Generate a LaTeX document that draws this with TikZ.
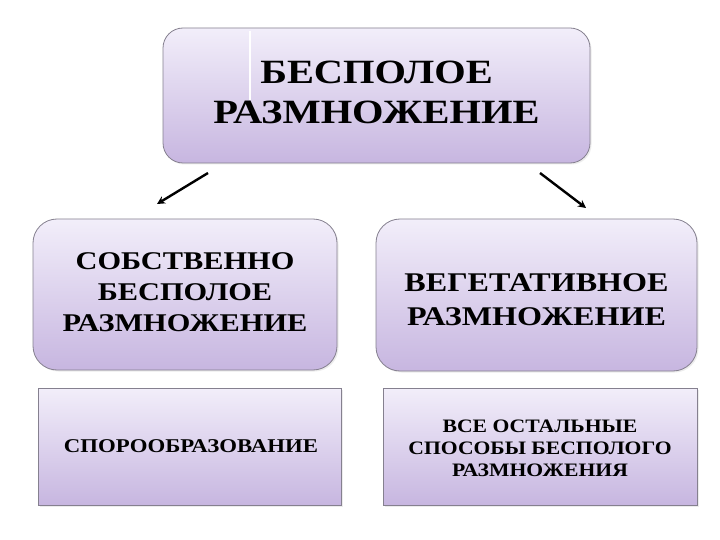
\documentclass[tikz,border=0pt]{standalone}
\usepackage{fontspec}
\usepackage{graphicx}
\setmainfont{Liberation Serif}
\usetikzlibrary{arrows.meta,shadows}
\definecolor{boxtop}{HTML}{F2EEFA}
\definecolor{boxbot}{HTML}{C7B6E0}
\definecolor{boxline}{HTML}{85808F}
\newcommand{\stretchtext}[4]{\scalebox{#1}[1]{\fontsize{#2}{#3}\selectfont\bfseries\begin{tabular}{@{}c@{}}#4\end{tabular}}}
\tikzset{
  box/.style={draw=boxline, line width=0.8pt, top color=boxtop, bottom color=boxbot,
    drop shadow={shadow xshift=1.5pt, shadow yshift=-1.5pt, opacity=0.15}},
  rbox/.style={box, rounded corners=20pt},
  lbl/.style={align=center, text=black, inner sep=0pt},
  arr/.style={line width=2.4pt, -{Stealth[length=8pt,width=8pt]}}
}
\begin{document}
\begin{tikzpicture}[x=1pt,y=-1pt]
\useasboundingbox (0,0) rectangle (720,540);
\fill[white] (0,0) rectangle (720,540);
% boxes
\draw[rbox] (163,28) rectangle (590,163);
\draw[white, line width=1.2pt] (250,31) -- (250,100);
\draw[rbox, rounded corners=24pt] (33,219) rectangle (337,370);
\draw[rbox, rounded corners=24pt] (376,219) rectangle (697,371);
\draw[box] (38,388) rectangle (341,505);
\draw[box] (383,388) rectangle (697,505);
% texts
\node[lbl] (top) at (376.5,96) {\stretchtext{1.19}{34}{40}{БЕСПОЛОЕ\\РАЗМНОЖЕНИЕ}};
\node[lbl] (own) at (185,294) {\stretchtext{1.19}{25.5}{31}{СОБСТВЕННО\\БЕСПОЛОЕ\\РАЗМНОЖЕНИЕ}};
\node[lbl] (veg) at (536.5,302) {\stretchtext{1.19}{27}{34}{ВЕГЕТАТИВНОЕ\\РАЗМНОЖЕНИЕ}};
\node[lbl] (spor) at (191,448) {\stretchtext{1.17}{19.5}{22}{СПОРООБРАЗОВАНИЕ}};
\node[lbl] (rest) at (540,450) {\stretchtext{1.14}{19}{22}{ВСЕ ОСТАЛЬНЫЕ\\СПОСОБЫ БЕСПОЛОГО\\РАЗМНОЖЕНИЯ}};
% arrows
\coordinate (la) at (208,173);
\coordinate (lb) at (157,204);
\coordinate (ra) at (540,173);
\coordinate (rb) at (586,208);
\draw[arr] (la) -- (lb);
\draw[arr] (ra) -- (rb);
\end{tikzpicture}
\end{document}
